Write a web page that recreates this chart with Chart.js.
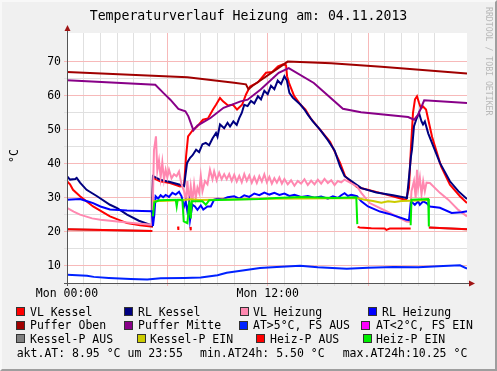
<!DOCTYPE html>
<html>
<head>
<meta charset="utf-8">
<script src="https://cdn.jsdelivr.net/npm/chart.js@4/dist/chart.umd.min.js"></script>
<style>
  body { margin: 0; background: #fff; }
  #frame { position: relative; width: 497px; height: 371px; background: #f0f0f0; overflow: hidden;
           font-family: 'DejaVu Sans Mono', monospace; color: #000; }
  #border { position: absolute; left: 0; top: 0; width: 497px; height: 371px; box-sizing: border-box;
            border-style: solid; border-width: 2px; border-color: #f8f8f8 #9e9e9e #9e9e9e #f8f8f8; }
  #c { position: absolute; left: 0; top: 0; }
  .t { position: absolute; white-space: pre; }
  .box { position: absolute; width: 9px; height: 9px; box-sizing: border-box; border: 1px solid #333; }
</style>
</head>
<body>
<div id="frame">
  <div id="border"></div>
  <canvas id="c" width="497" height="371"></canvas>
  <div class="t" style="left:0;top:8px;width:497px;text-align:center;font-size:13.2px;line-height:16px;">Temperaturverlauf Heizung am: 04.11.2013</div>
  <div class="t" style="left:14px;top:156px;font-size:11.5px;line-height:14px;transform:translate(-50%,-50%) rotate(-90deg);">°C</div>
  <div class="t" style="left:484px;top:7px;font-size:8.2px;line-height:9px;writing-mode:vertical-rl;color:#b8b8b8;">RRDTOOL / TOBI OETIKER</div>
  <div id="legend"></div>
</div>
<script>
// Zeit in Stunden ab Mon 00:00
var vlKesselT = [0,0.18,0.36,0.78,1.56,2.57,3.59,4.37,5.08,5.14,5.56,6.16,6.76,7.0,7.12,7.24,7.54,7.78,8.13,8.43,8.73,8.91,9.15,9.33,9.63,9.93,10.17,10.47,10.71,10.95,11.42,11.9,12.26,12.62,12.92,13.1,13.16,13.28,13.58,13.97,14.26,14.56,15.13,15.73,16.33,16.63,17.34,18.72,20.27,20.45,20.57,20.69,20.81,20.93,21.05,21.17,21.29,21.47,21.83,22.37,22.9,23.5,23.92];
var vlKessel  = [34.9,34.0,32.4,30.5,27.5,24.6,22.6,22.0,21.6,35.9,34.9,34.4,33.4,33.6,42.2,48.1,50.1,51.0,53.0,53.4,56.0,57.4,59.4,58.4,57.2,57.4,56.0,57.4,60.5,62.8,64.0,66.8,67.0,68.7,69.3,69.0,65.8,63.8,60.0,57.4,56.0,53.5,50.1,46.5,40.3,36.4,33.2,31.5,29.4,33,45,55,59.0,59.9,58,56.3,56.9,56.0,48,39.3,33.9,30.5,28.5];

var rlKesselT = [0,0.18,0.5,0.58,0.78,1.17,1.8,2.57,3.0,3.59,4.3,5.08,5.14,5.56,6.16,6.76,7.0,7.18,7.36,7.5,7.72,7.9,8.1,8.3,8.5,8.7,8.91,9.0,9.15,9.4,9.6,9.75,9.95,10.15,10.3,10.45,10.6,10.8,11.0,11.2,11.42,11.6,11.8,12.0,12.2,12.4,12.6,12.8,13.0,13.15,13.3,13.5,13.97,14.2,14.4,14.7,15.13,15.6,16.0,16.33,16.6,17.6,18.5,19.5,20.33,20.45,20.57,20.63,20.75,20.88,21.05,21.2,21.29,21.4,21.6,22.3,22.9,23.4,23.92];
var rlKessel  = [36.4,35.4,35.6,35.9,34.5,32.4,30.5,28.0,27.0,25.1,23.3,21.9,36.4,35.4,34.7,33.9,33.5,40.3,41.8,42.5,44.2,43.5,45.8,46.2,45.5,47.5,49.1,48,51.6,50.5,52.1,51.0,52.5,51.5,53.5,55,57.4,57.0,58.5,57.8,59.9,59,61.5,60.5,63,62,64.5,63.5,65.8,64.5,60.9,59.5,57.4,56,54.5,52.5,50.1,47,44,39.3,36.4,32.9,31.6,30.8,30.0,36,42.2,44.2,51.1,53,55,52.5,51.6,52.5,49,40.3,34.9,32,29.7];

var vlHeizT = [0,0.4,0.78,1.5,2.0,3.59,5.08,5.14,5.2,5.32,5.4,5.5,5.6,5.7,5.8,5.9,6.0,6.1,6.25,6.4,6.55,6.7,6.85,7.0,7.1,7.2,7.3,7.4,7.5,7.6,7.7,7.8,7.9,8.0,8.1,8.25,8.4,8.55,8.7,8.8,8.95,9.1,9.25,9.4,9.55,9.7,9.85,10.0,10.15,10.3,10.45,10.6,10.75,10.9,11.05,11.2,11.35,11.5,11.65,11.8,11.95,12.1,12.25,12.4,12.55,12.7,12.85,13.0,13.2,13.4,13.6,13.8,14.0,14.2,14.4,14.6,14.8,15.0,15.2,15.4,15.6,15.8,16.0,16.2,16.4,16.6,17.34,17.6,18.1,19.1,20.3,20.5,20.6,20.75,20.85,20.93,21.0,21.1,21.2,21.3,21.4,21.5,21.7,22.3,22.8,23.4,23.92];
var vlHeiz  = [27.1,26.0,25.1,24.0,23.6,22.8,22.1,30,44,48.1,38,41,36,40.5,35.4,38.3,36,38.3,35.8,37,36.4,37.8,34,32,29,35,28.5,33.4,29,34,30,33,31.5,36.5,32,35,34,38.3,35.5,37.8,35.2,37.4,35.5,37,35.5,37,35,36.8,34.8,36.5,34.6,37,35,36.6,34.5,36.2,34.4,36.4,34.8,36.9,34.6,36.2,34.2,35.8,34.5,36.0,34.2,35.6,34.0,35.2,33.6,35.0,34.2,35.5,33.8,35.1,34.0,35.4,34.2,35.6,34.4,35.2,33.8,35.0,34.6,35.4,33.4,31.5,28.5,26.1,23.1,23.0,32,35,30,38.3,33,36,31,34.9,32,34.5,34.4,31.5,29.5,26.5,24.6];

var rlHeizT = [0,0.78,1.3,1.56,2.0,2.57,3.59,4.5,5.08,5.14,5.22,5.3,5.45,5.6,5.75,5.9,6.1,6.3,6.5,6.7,6.85,7.0,7.1,7.2,7.3,7.36,7.5,7.65,7.8,8.0,8.15,8.4,8.6,8.8,9.0,9.3,9.6,10.0,10.3,10.6,10.9,11.2,11.5,11.8,12.1,12.4,12.7,13.0,13.3,13.6,14.0,14.4,14.8,15.2,15.6,15.9,16.2,16.4,16.6,16.8,17.0,17.34,17.6,18.0,18.72,19.4,20.3,20.45,20.57,20.8,21.0,21.1,21.3,21.5,21.7,22.3,23.0,23.6,23.92];
var rlHeiz  = [29.5,29.7,28.9,28.5,27.5,26.6,26.3,26.2,26.1,21.8,25,30.5,29.8,30.8,30.2,30.9,30.3,31.5,31.0,31.8,30.5,27.5,29,26,28.5,23.6,28,27.5,26.5,27.8,26.6,27.5,27.5,29.5,29.8,29.6,30.2,30.5,29.8,30.8,30.3,31.3,30.8,31.6,31.0,31.5,30.9,31.3,30.6,30.9,30.3,30.6,30.1,30.4,29.8,30.5,30.0,30.8,31.4,30.6,30.9,30.5,29,27.5,26,25.1,23.6,23.5,29,28,29,28,29,28.5,27.5,27.1,25.6,25.8,26.1];

var pufferObenT = [0,7.2,10.0,10.7,10.85,11.1,13.2,15.8,18.8,23.92];
var pufferOben  = [67.0,65.5,63.9,63.4,62.0,63.0,70.1,69.6,68.6,66.6];

var pufferMitteT = [0,5.28,5.76,6.18,6.66,7.08,7.26,7.56,7.8,8.58,9.36,10.38,10.8,11.58,12.66,13.26,14.76,16.5,17.58,20.4,20.76,21.0,21.36,23.92];
var pufferMitte  = [64.6,63.3,60.9,58.9,56.2,55.5,54,49.9,51.3,53.5,56.5,58.4,58.9,61.9,66.8,68.2,63.8,56.2,55.2,53.8,53.0,54.5,58.7,57.9];

var atT = [0,0.6,1.2,1.6,2.5,3.8,4.8,5.6,7.0,8.0,9.0,9.55,10.5,11.54,12.54,13.94,15.0,16.73,18.0,19.52,21.0,22.5,23.5,23.92];
var at  = [7.45,7.3,7.15,6.8,6.5,6.2,6.0,6.4,6.5,6.6,7.3,8.0,8.7,9.4,9.7,10.1,9.6,9.2,9.5,9.7,9.6,10.0,10.2,9.2];

var atFrostT = [];
var atFrost  = [];

var kesselAusT = [0,5.1,5.12,21.64,23.92];
var kesselAus  = [20.8,20.3,null,21.3,20.8];

var kesselEinT = [5.14,6.0,7.0,7.3,8.0,12.0,16.0,17.4,17.8,18.3,18.8,19.2,19.6,20.0,20.5,21.6];
var kesselEin  = [29.0,29.2,29.4,29.6,29.4,29.8,29.9,29.9,29.5,29.1,28.6,29.0,28.8,29.1,29.2,29.4];

var heizAusT = [0,5.1,5.12,6.64,6.66,6.68,7.38,7.4,7.42,17.38,17.5,18.2,19.0,19.1,19.3,20.55,20.57,21.64,23.92];
var heizAus  = [20.8,20.3,null,21.6,20.6,null,21.5,20.5,null,21.5,21.3,21.1,21.0,20.6,21.0,21.0,null,21.3,20.8];

var heizEinT = [5.14,5.22,5.5,6.5,6.56,6.62,6.9,6.98,7.2,7.32,7.4,7.46,8.1,8.3,8.5,9.0,11.5,12.5,14.0,16.0,17.3,17.36,17.4,20.55,20.6,21.6,21.64];
var heizEin  = [24.6,28.7,29.3,29.5,27.5,29.5,29.5,23.1,22.6,29,24,29,29,28,29.3,29.4,29.7,30.0,30.3,30.0,30.2,22.3,null,22.0,29.5,29.7,21.6];

var labels = ['VL Kessel','RL Kessel','VL Heizung','RL Heizung','Puffer Oben','Puffer Mitte',
              'AT>5°C, FS AUS','AT<2°C, FS EIN','Kessel-P AUS','Kessel-P EIN','Heiz-P AUS','Heiz-P EIN'];
var colors = ['#ff0000','#000080','#ff88b0','#0000ff','#a00000','#880088',
              '#0022ff','#ff00ff','#808080','#cccc00','#ff0000','#00ee00'];
var times  = [vlKesselT, rlKesselT, vlHeizT, rlHeizT, pufferObenT, pufferMitteT, atT, atFrostT, kesselAusT, kesselEinT, heizAusT, heizEinT];
var values = [vlKessel, rlKessel, vlHeiz, rlHeiz, pufferOben, pufferMitte, at, atFrost, kesselAus, kesselEin, heizAus, heizEin];

var stats = ['akt.AT: 8.95 °C um 23:55', 'min.AT24h: 5.50 °C', 'max.AT24h:10.25 °C'];

// Legende (RRDtool-Stil)
var rowY = [311.7, 325, 338.5];
var boxX = [[16,124,240,368],[16,124,239,361],[16,137,256,363]];
var textX = [[30,138,253,382],[30,138,253,376],[30,150,270,376]];
var legend = document.getElementById('legend');
for (var i = 0; i < labels.length; i++) {
  var r = Math.floor(i / 4), k = i % 4;
  var b = document.createElement('div');
  b.className = 'box';
  b.style.left = boxX[r][k] + 'px';
  b.style.top = (rowY[r] - 4.5) + 'px';
  b.style.background = colors[i];
  legend.appendChild(b);
  var t = document.createElement('div');
  t.className = 't';
  t.style.left = textX[r][k] + 'px';
  t.style.top = (rowY[r] - 7) + 'px';
  t.style.fontSize = '11.5px';
  t.style.lineHeight = '14px';
  t.textContent = labels[i];
  legend.appendChild(t);
}
var statX = [16.7, 200, 342.7];
for (var j = 0; j < stats.length; j++) {
  var s = document.createElement('div');
  s.className = 't';
  s.style.left = statX[j] + 'px';
  s.style.top = (352.7 - 7) + 'px';
  s.style.fontSize = '11.5px';
  s.style.lineHeight = '14px';
  s.textContent = stats[j];
  legend.appendChild(s);
}

var datasets = [];
for (var d = 0; d < labels.length; d++) {
  var pts = [];
  for (var p = 0; p < times[d].length; p++) pts.push({x: times[d][p], y: values[d][p]});
  datasets.push({
    label: labels[d],
    data: pts,
    borderColor: colors[d],
    backgroundColor: colors[d],
    borderWidth: 2,
    pointRadius: 0,
    tension: 0,
    spanGaps: false,
    order: labels.length - d
  });
}

var MGRID = '#f7b9b9';
var GRID = '#e0e0e0';
var NONE = 'rgba(0,0,0,0)';

var rrdFrame = {
  id: 'rrdFrame',
  beforeDraw: function(chart) {
    var a = chart.chartArea, c = chart.ctx;
    c.save();
    c.fillStyle = '#ffffff';
    c.fillRect(a.left, a.top, a.right - a.left, a.bottom - a.top);
    c.restore();
  },
  afterDraw: function(chart) {
    var a = chart.chartArea, c = chart.ctx;
    c.save();
    c.strokeStyle = '#555555';
    c.lineWidth = 1;
    c.beginPath();
    c.moveTo(a.left + 0.5, a.bottom + 3);
    c.lineTo(a.left + 0.5, a.top - 3);
    c.moveTo(a.left - 3, a.bottom + 0.5);
    c.lineTo(a.right + 2, a.bottom + 0.5);
    c.stroke();
    c.fillStyle = '#a01414';
    c.beginPath();
    c.moveTo(a.left + 0.5, a.top - 8);
    c.lineTo(a.left - 2.5, a.top - 2);
    c.lineTo(a.left + 3.5, a.top - 2);
    c.closePath();
    c.fill();
    c.beginPath();
    c.moveTo(a.right + 8, a.bottom + 0.5);
    c.lineTo(a.right + 2, a.bottom - 2.5);
    c.lineTo(a.right + 2, a.bottom + 3.5);
    c.closePath();
    c.fill();
    c.restore();
  }
};

Chart.defaults.font.family = "'DejaVu Sans Mono', monospace";
Chart.defaults.font.size = 11.5;
Chart.defaults.color = '#000';

new Chart(document.getElementById('c'), {
  type: 'line',
  data: { datasets: datasets },
  plugins: [rrdFrame],
  options: {
    responsive: false,
    animation: false,
    events: [],
    layout: { padding: { left: 0, top: 33, right: 30, bottom: 0 } },
    plugins: { legend: { display: false }, tooltip: { enabled: false } },
    scales: {
      x: {
        type: 'linear',
        min: 0,
        max: 23.92,
        afterFit: function(s) { s.height = 88; },
        border: { display: false },
        grid: {
          tickLength: 3,
          color: function(ctx) {
            var v = ctx.tick ? ctx.tick.value : null;
            if (v == null || Math.abs(v - Math.round(v)) > 1e-6) return NONE;
            return v % 6 === 0 ? MGRID : GRID;
          }
        },
        ticks: {
          stepSize: 1,
          autoSkip: false,
          maxRotation: 0,
          padding: 1,
          callback: function(v) {
            if (v === 0) return 'Mon 00:00';
            if (v === 12) return 'Mon 12:00';
            return '';
          }
        }
      },
      y: {
        min: 5,
        max: 78.5,
        afterFit: function(s) { s.width = 67; },
        border: { display: false },
        grid: {
          tickLength: 3,
          color: function(ctx) {
            var v = ctx.tick ? ctx.tick.value : null;
            if (v == null) return NONE;
            if (v % 10 === 0) return MGRID;
            if (v % 5 === 0) return GRID;
            return NONE;
          }
        },
        ticks: {
          stepSize: 5,
          padding: 3,
          callback: function(v) { return v % 10 === 0 ? String(v) : ''; }
        }
      }
    }
  }
});
</script>
</body>
</html>
